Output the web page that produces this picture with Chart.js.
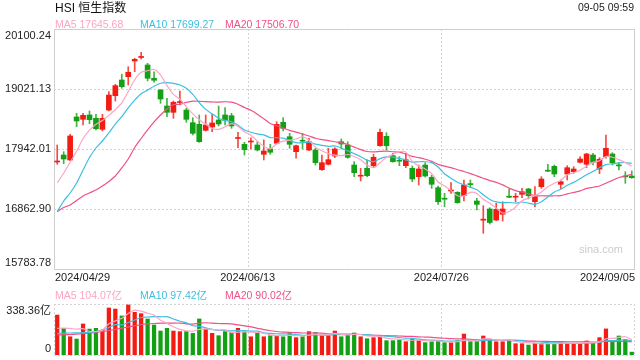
<!DOCTYPE html>
<html><head><meta charset="utf-8">
<script src="https://cdn.jsdelivr.net/npm/chart.js@4.4.1/dist/chart.umd.min.js"></script>
<style>
html,body{margin:0;padding:0;background:#fff;width:640px;height:360px;overflow:hidden;font-family:"Liberation Sans",Arial,"Noto Sans CJK SC",sans-serif;}
.t{position:absolute;white-space:nowrap;line-height:1;}
#c1{position:absolute;left:0;top:0;}
#c2{position:absolute;left:0;top:300px;}
</style></head><body>
<canvas id="c1" width="640" height="290"></canvas>
<canvas id="c2" width="640" height="60"></canvas>
<div class="t" style="left:55px;top:2px;font-size:12px;color:#111;">HSI 恒生指数</div>
<div class="t" style="right:6px;top:1.6px;font-size:10.5px;color:#222;">09-05 09:59</div>
<div class="t" style="left:55px;top:19px;font-size:10.5px;color:#fca5c4;">MA5 17645.68</div>
<div class="t" style="left:140px;top:19px;font-size:10.5px;color:#3dbfe0;">MA10 17699.27</div>
<div class="t" style="left:225px;top:19px;font-size:10.5px;color:#ef5187;">MA20 17506.70</div>
<div class="t" style="left:55px;top:289.5px;font-size:10.5px;color:#fca5c4;">MA5 104.07亿</div>
<div class="t" style="left:140px;top:289.5px;font-size:10.5px;color:#3dbfe0;">MA10 97.42亿</div>
<div class="t" style="left:225px;top:289.5px;font-size:10.5px;color:#ef5187;">MA20 90.02亿</div>
<script>
// ---- data ----
const dates = ["2024/04/29","2024/04/30",
"2024/05/02","2024/05/03","2024/05/06","2024/05/07","2024/05/08","2024/05/09","2024/05/10","2024/05/13","2024/05/14","2024/05/16","2024/05/17","2024/05/20","2024/05/21","2024/05/22","2024/05/23","2024/05/24","2024/05/27","2024/05/28","2024/05/29","2024/05/30","2024/05/31",
"2024/06/03","2024/06/04","2024/06/05","2024/06/06","2024/06/07","2024/06/11","2024/06/12","2024/06/13","2024/06/14","2024/06/17","2024/06/18","2024/06/19","2024/06/20","2024/06/21","2024/06/24","2024/06/25","2024/06/26","2024/06/27","2024/06/28",
"2024/07/02","2024/07/03","2024/07/04","2024/07/05","2024/07/08","2024/07/09","2024/07/10","2024/07/11","2024/07/12","2024/07/15","2024/07/16","2024/07/17","2024/07/18","2024/07/19","2024/07/22","2024/07/23","2024/07/24","2024/07/25","2024/07/26","2024/07/29","2024/07/30","2024/07/31",
"2024/08/01","2024/08/02","2024/08/05","2024/08/06","2024/08/07","2024/08/08","2024/08/09","2024/08/12","2024/08/13","2024/08/14","2024/08/15","2024/08/16","2024/08/19","2024/08/20","2024/08/21","2024/08/22","2024/08/23","2024/08/26","2024/08/27","2024/08/28","2024/08/29","2024/08/30",
"2024/09/02","2024/09/03","2024/09/04","2024/09/05"];
const xTickLabels = ["2024/04/29","2024/06/13","2024/07/26","2024/09/05"];
const yTickLabels = [20100.24, 19021.13, 17942.01, 16862.90, 15783.78];
const volTickLabels = [338.36, 0];

const open  = [17708,17834,17745,18518,18476,18554,18494,18296,18643,18901,19183,19242,19525,19588,19453,19214,19003,18715,18602,18778,18643,18415,18386,18278,18338,18464,18554,18541,18131,18027,18068,18014,17847,17942,18045,18422,18163,17894,18090,17924,17924,17570,17667,17816,18073,18014,17654,17453,17595,17642,18001,18170,17822,17730,17642,17595,17444,17654,17433,17246,17046,17187,17163,17102,17309,17007,16662,16863,16665,16768,17082,17075,17127,17223,16994,17264,17550,17631,17307,17492,17534,17703,17667,17834,17582,17804,17852,17645,17447,17456];
const high  = [18014,17894,18206,18584,18584,18626,18566,18566,18973,19106,19286,19422,19573,19681,19483,19332,19012,18854,18805,18985,18674,18505,18554,18554,18566,18715,18685,18584,18242,18063,18145,18073,18104,18027,18433,18505,18224,18014,18224,18134,17955,17834,17955,17965,18122,18073,17714,17595,17745,17847,18302,18235,17865,17804,17865,17636,17654,17696,17474,17277,17145,17336,17174,17385,17385,17055,16922,16886,16966,16994,17223,17145,17235,17235,17264,17444,17667,17654,17385,17642,17624,17804,17865,17865,17786,18194,17876,17703,17534,17547];
const low   = [17667,17678,17733,18343,18374,18397,18284,18266,18626,18805,19034,19093,19332,19561,19165,19142,18764,18523,18494,18733,18422,18194,18063,18266,18253,18356,18374,18314,17965,17834,17942,17906,17745,17847,18032,18266,17955,17775,17942,17912,17654,17559,17654,17786,17942,17775,17444,17367,17444,17606,17991,17924,17703,17642,17606,17354,17295,17438,17235,16947,16904,17145,16966,17007,17246,16845,16426,16593,16653,16647,17066,16994,17066,17044,16904,17235,17534,17444,17223,17385,17505,17690,17606,17654,17498,17775,17654,17564,17325,17415];
const close = [17717,17762,18176,18446,18548,18469,18307,18494,18913,19081,19063,19322,19555,19593,19214,19178,18841,18602,18782,18787,18476,18224,18073,18374,18410,18392,18458,18356,18136,17930,18075,17924,17906,17883,18386,18314,18027,18001,18082,18073,17696,17696,17750,17942,18032,17793,17516,17460,17462,17793,18242,18001,17714,17723,17750,17402,17582,17456,17307,16994,17039,17196,16976,17295,17302,16947,16669,16620,16858,16863,17075,17082,17174,17102,17084,17402,17543,17492,17354,17606,17582,17762,17852,17703,17757,17955,17696,17638,17440,17426];

const ma5  = [17336,17505,17703,17900,18130,18280,18389,18453,18546,18653,18772,18975,19187,19323,19349,19372,19276,19086,18923,18838,18698,18574,18468,18387,18311,18295,18341,18398,18350,18254,18191,18084,17994,17944,18035,18083,18103,18122,18162,18099,17976,17910,17859,17831,17823,17843,17807,17749,17653,17605,17695,17792,17842,17895,17886,17718,17634,17583,17499,17348,17276,17198,17102,17100,17162,17143,17038,16967,16879,16791,16817,16900,17010,17059,17103,17169,17261,17325,17375,17479,17515,17559,17631,17701,17731,17806,17793,17750,17697,17631];
const ma10 = [16815,17007,17151,17331,17564,17789,17960,18086,18230,18391,18526,18682,18820,18935,19001,19072,19125,19136,19123,19094,19035,18925,18777,18655,18575,18496,18458,18433,18369,18283,18243,18213,18196,18147,18145,18137,18094,18058,18053,18067,18029,18006,17991,17997,17961,17909,17858,17804,17742,17714,17769,17799,17796,17774,17745,17706,17713,17713,17697,17617,17497,17416,17343,17300,17255,17209,17118,17035,16990,16977,16980,16969,16989,16969,16947,16993,17080,17168,17217,17291,17342,17410,17478,17538,17605,17661,17676,17691,17699,17681];
const ma20 = [16815,16890,16935,17016,17097,17151,17205,17277,17358,17457,17601,17762,17969,18131,18284,18428,18554,18662,18742,18743,18781,18804,18798,18795,18788,18784,18792,18785,18746,18688,18639,18569,18487,18401,18360,18317,18276,18246,18211,18175,18136,18110,18094,18072,18053,18023,17976,17931,17897,17891,17899,17903,17893,17885,17853,17808,17786,17758,17720,17666,17633,17608,17569,17537,17500,17458,17416,17374,17343,17297,17239,17193,17166,17135,17101,17101,17099,17101,17103,17134,17161,17189,17233,17254,17276,17327,17378,17429,17458,17486];

const volume = [265,177,121,106,206,172,177,166,312,305,259,332,283,274,239,199,159,177,159,155,155,144,239,170,144,128,155,150,177,155,121,146,121,128,128,121,150,115,121,155,150,128,128,159,121,133,146,121,108,115,121,95,95,100,88,111,95,82,88,95,82,82,95,139,88,88,126,98,88,88,100,75,75,66,78,78,78,78,82,78,78,78,93,82,115,173,88,126,102,19];
const vma5  = [177,178,176,172,175,156,156,165,207,226,244,275,298,291,277,265,231,210,187,170,161,158,170,173,170,165,167,149,151,153,152,150,144,134,129,129,130,128,127,132,138,134,136,144,137,134,137,136,126,125,122,112,107,105,100,98,98,95,93,94,88,86,88,99,97,98,107,108,98,98,100,90,85,81,79,74,75,76,79,79,79,79,82,82,89,108,110,117,121,102];
const vma10 = [144,145,146,147,148,150,155,165,182,201,200,216,232,249,252,255,253,254,239,224,213,194,190,180,170,163,163,160,162,162,158,159,147,143,141,140,140,136,131,131,134,132,132,136,135,136,136,136,135,131,128,125,121,116,112,110,105,101,99,97,93,92,92,96,96,93,97,98,98,97,99,99,97,89,88,87,82,80,80,79,77,77,79,80,84,94,95,99,101,95];
const vma20 = [133,134,136,139,142,146,150,156,162,170,178,186,194,201,206,209,211,212,212,212,207,205,211,214,211,209,208,207,200,193,186,177,168,161,156,152,151,148,146,146,146,145,140,139,138,138,138,136,133,131,131,128,127,126,124,123,120,119,117,114,111,108,107,106,104,102,101,100,99,97,96,95,94,93,92,90,90,89,89,88,88,88,88,85,86,90,89,90,91,87];

// ---- styles ----
const RED = '#f31b12', GREEN = '#14a014';
const C5 = '#fca5c4', C10 = '#3dbfe0', C20 = '#ef5187';
const GRID = '#d2d2d2', FRAME = '#cfcfcf';
const FONT = '11px "Liberation Sans", Arial, "Noto Sans CJK SC", sans-serif';
const candleColor = dates.map((d, i) => close[i] >= open[i] ? RED : GREEN);
const wickColor = dates.map((d, i) => close[i] >= open[i] ? 'rgba(243,27,18,0.8)' : 'rgba(20,160,20,0.8)');

function slotEdge(xs, i) {
  return (xs.getPixelForValue(i - 1) + xs.getPixelForValue(i)) / 2;
}
function hline(ctx, x1, x2, y) { ctx.beginPath(); ctx.moveTo(x1, Math.round(y) + 0.5); ctx.lineTo(x2, Math.round(y) + 0.5); ctx.stroke(); }
function vline(ctx, x, y1, y2) { ctx.beginPath(); ctx.moveTo(Math.round(x) + 0.5, y1); ctx.lineTo(Math.round(x) + 0.5, y2); ctx.stroke(); }

const mainDeco = {
  id: 'mainDeco',
  beforeDatasetsDraw(chart) {
    const { ctx, chartArea: a, scales: { x, y } } = chart;
    ctx.save();
    ctx.lineWidth = 1;
    ctx.strokeStyle = GRID;
    ctx.setLineDash([2, 2]);
    yTickLabels.slice(1, -1).forEach(v => hline(ctx, a.left, a.right, y.getPixelForValue(v)));
    xTickLabels.slice(1, -1).forEach(lbl => vline(ctx, slotEdge(x, dates.indexOf(lbl)), a.top, a.bottom));
    ctx.setLineDash([]);
    ctx.strokeStyle = FRAME;
    hline(ctx, a.left, a.right, a.top);
    hline(ctx, a.left, a.right, a.bottom);
    vline(ctx, a.left, a.top, a.bottom);
    vline(ctx, a.right - 1, a.top, a.bottom);
    ctx.fillStyle = '#cccccc';
    ctx.font = '11px "Liberation Sans", Arial, sans-serif';
    ctx.textAlign = 'right'; ctx.textBaseline = 'middle';
    ctx.fillText('sina.com', 623, 249.5);
    ctx.restore();
  },
  afterDraw(chart) {
    const { ctx, chartArea: a, scales: { x, y } } = chart;
    ctx.save();
    ctx.font = FONT;
    ctx.fillStyle = '#222';
    ctx.textAlign = 'right';
    ctx.textBaseline = 'middle';
    yTickLabels.forEach((v, i) => {
      let py = y.getPixelForValue(v);
      if (i === 0) py += 7;
      if (i === yTickLabels.length - 1) py -= 6;
      ctx.fillText(v.toFixed(2), 51, py);
    });
    xTickLabels.forEach((lbl, i) => {
      const px = slotEdge(x, dates.indexOf(lbl));
      if (i === 0) { ctx.textAlign = 'left'; ctx.fillText(lbl, a.left + 1, 278); }
      else if (i === xTickLabels.length - 1) { ctx.textAlign = 'right'; ctx.fillText(lbl, a.right, 278); }
      else { ctx.textAlign = 'center'; ctx.fillText(lbl, px, 278); }
    });
    ctx.restore();
  }
};

const volDeco = {
  id: 'volDeco',
  beforeDatasetsDraw(chart) {
    const { ctx, chartArea: a, scales: { x } } = chart;
    ctx.save();
    ctx.lineWidth = 1;
    ctx.strokeStyle = GRID;
    ctx.setLineDash([2, 2]);
    hline(ctx, a.left, a.right, a.top);
    hline(ctx, a.left, a.right, a.bottom);
    vline(ctx, a.left, a.top, a.bottom);
    vline(ctx, a.right - 1, a.top, a.bottom);
    xTickLabels.slice(1, -1).forEach(lbl => vline(ctx, slotEdge(x, dates.indexOf(lbl)), a.top, a.bottom));
    ctx.restore();
  },
  afterDraw(chart) {
    const { ctx, scales: { y } } = chart;
    ctx.save();
    ctx.font = FONT;
    ctx.fillStyle = '#222';
    ctx.textAlign = 'right';
    ctx.textBaseline = 'middle';
    ctx.fillText(volTickLabels[0].toFixed(2) + '亿', 51, y.getPixelForValue(volTickLabels[0]) + 7);
    ctx.fillText(String(volTickLabels[1]), 51, y.getPixelForValue(volTickLabels[1]) - 6.5);
    ctx.restore();
  }
};

function maLine(label, data, color) {
  return { type: 'line', label, data, borderColor: color, borderWidth: 1.2, pointRadius: 0, tension: 0.25, fill: false, order: 0 };
}

new Chart(document.getElementById('c1'), {
  type: 'bar',
  data: {
    labels: dates,
    datasets: [
      maLine('MA5', ma5, C5),
      maLine('MA10', ma10, C10),
      maLine('MA20', ma20, C20),
      { label: 'body', data: dates.map((d, i) => [open[i], close[i]]), backgroundColor: candleColor,
        barThickness: 5, grouped: false, minBarLength: 1, order: 1 },
      { label: 'wick', data: dates.map((d, i) => [low[i], high[i]]), backgroundColor: wickColor,
        barThickness: 1, grouped: false, order: 2 }
    ]
  },
  options: {
    responsive: false, animation: false, events: [],
    layout: { padding: { left: 54, right: 5, top: 29, bottom: 21 } },
    plugins: { legend: { display: false }, tooltip: { enabled: false } },
    scales: {
      x: { display: false, offset: true },
      y: { display: false, min: yTickLabels[yTickLabels.length - 1], max: yTickLabels[0] }
    }
  },
  plugins: [mainDeco]
});

new Chart(document.getElementById('c2'), {
  type: 'bar',
  data: {
    labels: dates,
    datasets: [
      maLine('MA5', vma5, C5),
      maLine('MA10', vma10, C10),
      maLine('MA20', vma20, C20),
      { label: 'vol', data: volume, backgroundColor: candleColor, barThickness: 3.6, grouped: false, order: 1 }
    ]
  },
  options: {
    responsive: false, animation: false, events: [],
    layout: { padding: { left: 54, right: 5, top: 4, bottom: 5 } },
    plugins: { legend: { display: false }, tooltip: { enabled: false } },
    scales: {
      x: { display: false, offset: true },
      y: { display: false, min: volTickLabels[1], max: volTickLabels[0] }
    }
  },
  plugins: [volDeco]
});
</script>
</body></html>
